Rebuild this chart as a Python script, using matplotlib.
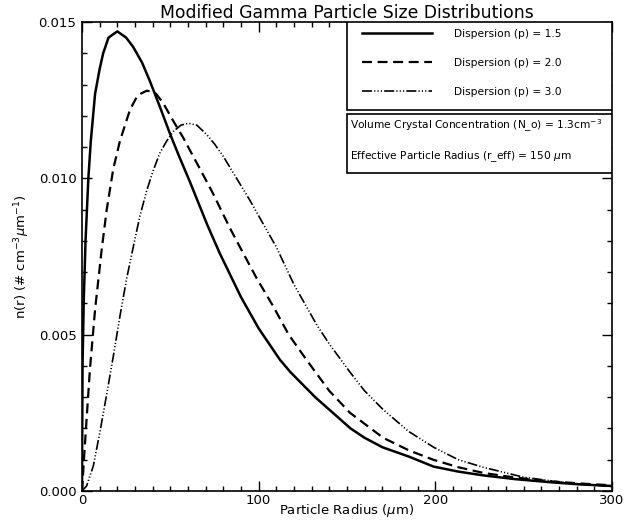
import numpy as np
import matplotlib
matplotlib.use('Agg')
import matplotlib.pyplot as plt
from matplotlib.ticker import MultipleLocator, FormatStrFormatter
from matplotlib.patches import Rectangle

# particle radius (um) and n(r) for each dispersion
r_15 = [0, 0.3, 1, 2, 3.6, 5, 7.4, 10, 12, 15, 17.5, 20, 22.5, 25, 29, 34, 38.5, 44, 50, 55,
        61, 66, 71, 78, 84, 90, 95, 100, 106, 112, 118, 125, 132, 140, 152, 160, 170, 185,
        199, 213, 227, 245, 265, 282, 300]
n_15 = [0, 0.0040, 0.0061, 0.0080, 0.0100, 0.0112, 0.0127, 0.0135, 0.0140, 0.0145, 0.0146,
        0.0147, 0.0146, 0.0145, 0.0142, 0.0137, 0.0131, 0.0123, 0.0114, 0.0107, 0.0099,
        0.0092, 0.0085, 0.0076, 0.0069, 0.0062, 0.0057, 0.0052, 0.0047, 0.0042, 0.0038,
        0.0034, 0.0030, 0.0026, 0.0020, 0.0017, 0.0014, 0.0011, 0.00078, 0.00062, 0.00050,
        0.00038, 0.00028, 0.00021, 0.00016]

r_20 = [0, 1.1, 2.6, 4.5, 7.4, 11.1, 14, 17.7, 21.5, 27.2, 31, 33, 36.6, 39.5, 42, 46, 52,
        57.3, 62, 66.8, 74.3, 83.8, 91.3, 98.9, 108.3, 117, 127, 140, 151.7, 170.5, 185,
        198.8, 213, 227, 245, 265, 282, 300]
n_20 = [0, 0.0010, 0.0023, 0.0039, 0.0058, 0.0077, 0.0090, 0.0103, 0.0112, 0.0122, 0.0126,
        0.0127, 0.0128, 0.01278, 0.0127, 0.0124, 0.0118, 0.0113, 0.0108, 0.0103, 0.0095,
        0.0084, 0.0076, 0.0068, 0.0059, 0.0050, 0.0042, 0.0032, 0.0025, 0.0017, 0.0013,
        0.0010, 0.00076, 0.00058, 0.00043, 0.00031, 0.00024, 0.00018]

r_30 = [0, 2.6, 6.4, 10.2, 14, 17.7, 21.5, 25.3, 29, 32.8, 36.6, 40, 44, 48, 51.7, 56, 60.2,
        65, 70.6, 75, 80, 87.5, 95, 100, 106, 110, 120, 133, 140, 151.7, 160, 170.5, 185,
        199, 213, 227, 250, 274, 300]
n_30 = [0, 0.00016, 0.00080, 0.0019, 0.0031, 0.0043, 0.0056, 0.0068, 0.0078, 0.0088, 0.0096,
        0.0102, 0.0108, 0.0112, 0.0115, 0.0117, 0.01176, 0.0117, 0.0114, 0.0111, 0.0107,
        0.0100, 0.0093, 0.0088, 0.0082, 0.0078, 0.0066, 0.0053, 0.0047, 0.0038, 0.0032,
        0.0026, 0.0019, 0.0014, 0.0010, 0.00076, 0.00044, 0.00026, 0.00014]

labels = ['Dispersion (p) = 1.5', 'Dispersion (p) = 2.0', 'Dispersion (p) = 3.0']
info = ['Volume Crystal Concentration (N_o) = 1.3cm$^{-3}$',
        'Effective Particle Radius (r_eff) = 150 $\\mu$m']

fig = plt.figure(figsize=(6.24, 5.2), dpi=100)
fig.subplots_adjust(left=0.1314, right=0.9808, bottom=0.0558, top=0.9577)
ax = fig.add_subplot(111)

l1, = ax.plot(r_15, n_15, color='black', lw=1.8, ls='-')
l2, = ax.plot(r_20, n_20, color='black', lw=1.6, ls=(0, (4.5, 2.5)))
l3, = ax.plot(r_30, n_30, color='black', lw=1.2,
              ls=(0, (6, 1.3, 0.7, 1.3, 0.7, 1.3, 0.7, 1.3)))

ax.set_xlim(0, 300)
ax.set_ylim(0, 0.015)
ax.xaxis.set_major_locator(MultipleLocator(100))
ax.xaxis.set_minor_locator(MultipleLocator(10))
ax.yaxis.set_major_locator(MultipleLocator(0.005))
ax.yaxis.set_minor_locator(MultipleLocator(0.001))
ax.yaxis.set_major_formatter(FormatStrFormatter('%.3f'))
ax.tick_params(which='both', direction='in', top=True, right=True, labelsize=9.5, width=1)
ax.tick_params(which='major', length=7)
ax.tick_params(which='minor', length=3.5)
ax.tick_params(axis='x', which='major', pad=2)
ax.tick_params(axis='y', which='major', pad=4)
for s in ax.spines.values():
    s.set_linewidth(1.2)

ax.set_title('Modified Gamma Particle Size Distributions', fontsize=12.4, pad=2)
ax.set_xlabel('Particle Radius ($\\mu$m)', fontsize=9.5)
ax.xaxis.set_label_coords(0.5, -0.024)
ax.set_ylabel('n(r) (# cm$^{-3}$$\\mu$m$^{-1}$)', fontsize=9.5)
ax.yaxis.set_label_coords(-0.094, 0.5)

# boxes holding the legend and the parameters
ax.add_patch(Rectangle((0.5, 0.812), 0.5, 0.188, transform=ax.transAxes,
                       facecolor='white', edgecolor='black', lw=1.2, zorder=3))
ax.add_patch(Rectangle((0.5, 0.678), 0.5, 0.126, transform=ax.transAxes,
                       facecolor='white', edgecolor='black', lw=1.2, zorder=3))

leg = ax.legend([l1, l2, l3], labels, loc='upper left', bbox_to_anchor=(0.528, 0.985),
                frameon=False, fontsize=7.7, handlelength=6.6, handletextpad=2.05,
                labelspacing=1.78, borderpad=0, borderaxespad=0)
leg.set_zorder(4)

ax.text(0.506, 0.778, info[0], transform=ax.transAxes, fontsize=7.7, va='center', zorder=4)
ax.text(0.506, 0.712, info[1], transform=ax.transAxes, fontsize=7.7, va='center', zorder=4)

plt.savefig('out.png', dpi=100)
